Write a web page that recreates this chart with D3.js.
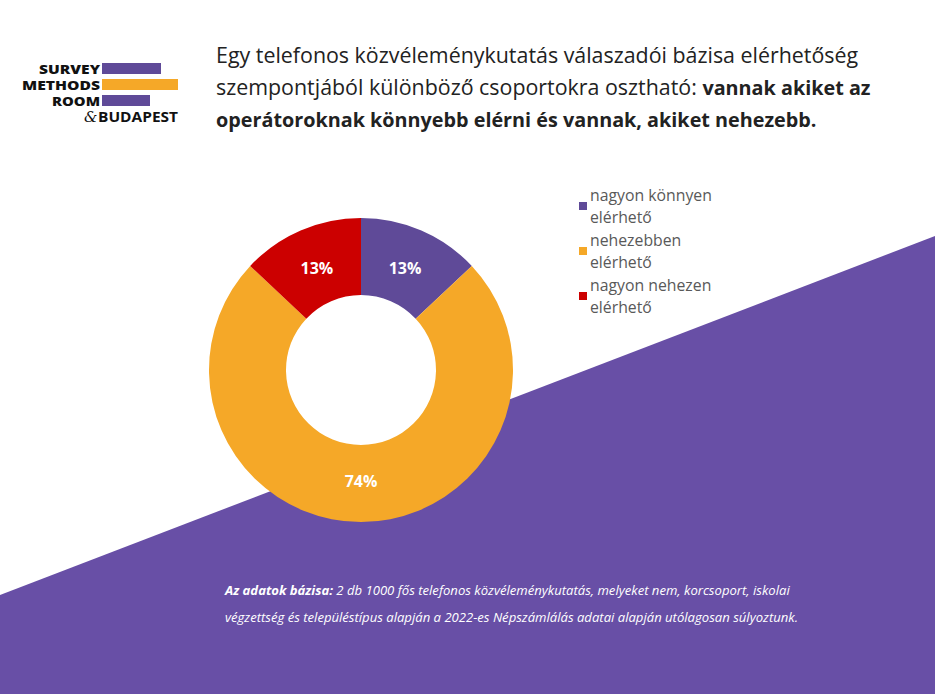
<!DOCTYPE html>
<html>
<head>
<meta charset="utf-8">
<script src="https://cdn.jsdelivr.net/npm/d3@7"></script>
<style>
  body { margin: 0; background: #fff; }
  svg { display: block; }
</style>
</head>
<body>
<div id="chart"></div>
<script>
// data
const categories = ["nagyon könnyen elérhető", "nehezebben elérhető", "nagyon nehezen elérhető"];
const legendLines = [["nagyon könnyen", "elérhető"], ["nehezebben", "elérhető"], ["nagyon nehezen", "elérhető"]];
const values = [13, 74, 13];
const colors = ["#5f4a98", "#f5a828", "#cc0000"];

const titleLines = [
  [{t: "Egy telefonos közvéleménykutatás válaszadói bázisa elérhetőség", b: false}],
  [{t: "szempontjából különböző csoportokra osztható: ", b: false}, {t: "vannak akiket az", b: true}],
  [{t: "operátoroknak könnyebb elérni és vannak, akiket nehezebb.", b: true}]
];
const noteLines = [
  [{t: "Az adatok bázisa:", b: true}, {t: " 2 db 1000 fős telefonos közvéleménykutatás, melyeket nem, korcsoport, iskolai", b: false}],
  [{t: "végzettség és településtípus alapján a 2022-es Népszámlálás adatai alapján utólagosan súlyoztunk.", b: false}]
];

const width = 935, height = 694;
const font = "'Open Sans', Lato, sans-serif";

const svg = d3.select("#chart").append("svg")
    .attr("width", width)
    .attr("height", height)
    .attr("viewBox", [0, 0, width, height]);

// purple diagonal background
svg.append("path")
    .attr("d", `M0,595 L${width},236 L${width},${height} L0,${height} Z`)
    .attr("fill", "#684fa6");

// logo
const logo = svg.append("g").attr("font-family", "'Open Sans', sans-serif").attr("font-weight", 800).attr("fill", "#111");
[["SURVEY", 74, 61], ["METHODS", 90, 78], ["ROOM", 106, 48]].forEach(([w, y, len]) => {
  logo.append("text").attr("x", 100 - len).attr("y", y)
      .attr("font-size", 12.3).attr("textLength", len).attr("lengthAdjust", "spacingAndGlyphs").text(w);
});
[[63, 59, "#5f4a98"], [79, 76, "#f5a828"], [95, 48, "#5f4a98"]].forEach(([y, w, c]) => {
  logo.append("rect").attr("x", 102).attr("y", y).attr("width", w).attr("height", 11).attr("fill", c);
});
logo.append("text").attr("x", 84).attr("y", 122).attr("font-size", 15).attr("font-weight", 400)
    .attr("font-family", "'DejaVu Serif', serif").attr("font-style", "italic").text("&");
logo.append("text").attr("x", 98).attr("y", 122)
    .attr("font-size", 13.5).attr("font-weight", 700).attr("textLength", 80)
    .attr("lengthAdjust", "spacingAndGlyphs").text("BUDAPEST");

// title
const title = svg.append("text").attr("font-family", font).attr("fill", "#222");
titleLines.forEach((line, i) => {
  const tl = title.append("tspan").attr("x", 216).attr("y", 63 + i * 32);
  line.forEach(seg => tl.append("tspan")
      .attr("font-weight", seg.b ? 700 : 400)
      .attr("font-size", seg.b ? 19.8 : 21.4)
      .text(seg.t));
});

// donut
const cx = 361, cy = 370, outerR = 152, innerR = 75;
const pie = d3.pie().sort(null).value(d => d);
const arc = d3.arc().innerRadius(innerR).outerRadius(outerR);
const labelArc = d3.arc().innerRadius(111).outerRadius(111);

const g = svg.append("g").attr("transform", `translate(${cx},${cy})`);
const arcs = pie(values);
g.selectAll("path")
  .data(arcs)
  .join("path")
    .attr("d", arc)
    .attr("fill", (d, i) => colors[i]);

g.selectAll("text")
  .data(arcs)
  .join("text")
    .attr("transform", d => `translate(${labelArc.centroid(d)})`)
    .attr("text-anchor", "middle")
    .attr("dy", "0.35em")
    .attr("font-family", font)
    .attr("font-weight", 700)
    .attr("font-size", 16)
    .attr("fill", "#fff")
    .text(d => d.data + "%");

// legend
const legend = svg.append("g").attr("font-family", font).attr("font-size", 15.8).attr("fill", "#595959");
legendLines.forEach((lines, i) => {
  const y0 = 196 + i * 45;
  legend.append("rect").attr("x", 579).attr("y", y0 + 6).attr("width", 8).attr("height", 8).attr("fill", colors[i]);
  lines.forEach((l, j) => {
    legend.append("text").attr("x", 590).attr("y", y0 + 5 + j * 22).text(l);
  });
});

// footnote
const note = svg.append("text").attr("font-family", font).attr("font-size", 13.1)
    .attr("font-style", "italic").attr("fill", "#fff");
noteLines.forEach((line, i) => {
  const tl = note.append("tspan").attr("x", 225).attr("y", 595 + i * 27);
  line.forEach(seg => tl.append("tspan").attr("font-weight", seg.b ? 700 : 400).text(seg.t));
});
</script>
</body>
</html>
